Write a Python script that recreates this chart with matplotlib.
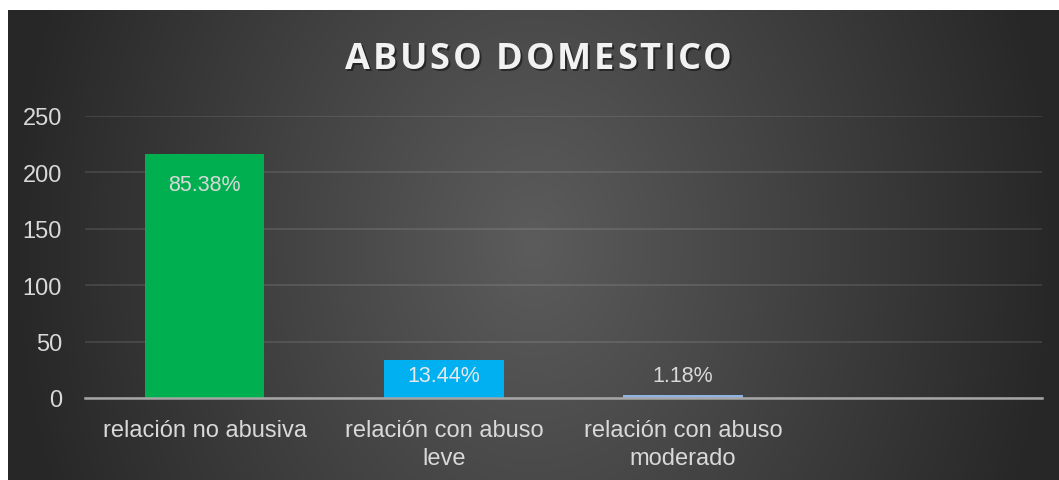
import numpy as np
import matplotlib
matplotlib.use("Agg")
import matplotlib.pyplot as plt

categories = ["relación no abusiva", "relación con abuso\nleve", "relación con abuso\nmoderado", ""]
values = [216, 34, 3, 0]
labels = ["85.38%", "13.44%", "1.18%", None]
colors = ["#00b050", "#00b0f0", "#8eb4e3", "none"]
yticks = [0, 50, 100, 150, 200, 250]
title = "ABUSO DOMESTICO"

W, H = 1059, 481
fig = plt.figure(figsize=(W / 100, H / 100), dpi=100)
fig.patch.set_facecolor("white")

# background panel with radial gradient
x0, y0 = 8 / W, 0.0
bw, bh = 1 - x0, 1 - 11 / H
bg = fig.add_axes([x0, y0, bw, bh])
nx, ny = 400, 200
xx, yy = np.meshgrid(np.linspace(-1, 1, nx), np.linspace(-1, 1, ny))
r = np.sqrt(xx ** 2 + (yy * 0.35) ** 2)
r = np.clip(r, 0, 1)
inner = np.array([0x5c, 0x5c, 0x5c]) / 255
outer = np.array([0x27, 0x27, 0x27]) / 255
img = inner[None, None, :] * (1 - r[..., None]) + outer[None, None, :] * r[..., None]
bg.imshow(img, aspect="auto", extent=[0, 1, 0, 1], interpolation="bilinear")
bg.set_axis_off()

# main axes
left, right = 85 / W, 1042 / W
bottom_px, top_px = 399, 117
ax = fig.add_axes([left, 1 - bottom_px / H, right - left, (bottom_px - top_px) / H])
ax.patch.set_alpha(0)
x = np.arange(len(categories))
bars = ax.bar(x, values, width=0.5, color=colors, zorder=3)
ax.set_xlim(-0.5, len(categories) - 0.5)
ax.set_ylim(0, 250)
ax.set_yticks(yticks)
ax.set_yticklabels([str(t) for t in yticks], fontsize=17, color="#d9d9d9",
                   family="Liberation Sans")
ax.set_xticks(x)
ax.set_xticklabels(categories, fontsize=17, color="#d9d9d9", family="Liberation Sans",
                   linespacing=1.35)
ax.tick_params(axis="both", length=0)
ax.tick_params(axis="y", pad=16.5)
ax.tick_params(axis="x", pad=15)
ax.grid(axis="y", color="white", alpha=0.1, linewidth=1.5, zorder=0)
for s in ["top", "right", "left"]:
    ax.spines[s].set_visible(False)
ax.spines["bottom"].set_color("#a6a6a6")
ax.spines["bottom"].set_linewidth(1.8)
ax.spines["bottom"].set_zorder(4)

for i, (v, lab) in enumerate(zip(values, labels)):
    if lab is None:
        continue
    if v > 100:
        ax.annotate(lab, (x[i], v), xytext=(0, -14), textcoords="offset points",
                    ha="center", va="top", fontsize=15.5, color="#d9d9d9",
                    family="Liberation Sans", zorder=5)
    elif v > 20:
        ax.annotate(lab, (x[i], v), xytext=(0, -4), textcoords="offset points",
                    ha="center", va="top", fontsize=15.5, color="#e8e8e8",
                    family="Liberation Sans", zorder=5)
    else:
        ax.annotate(lab, (x[i], v), xytext=(0, 6), textcoords="offset points",
                    ha="center", va="bottom", fontsize=15.5, color="#d9d9d9",
                    family="Liberation Sans", zorder=5)

# title with letter spacing and shadow
renderer = fig.canvas.get_renderer()
tkw = dict(fontsize=26, fontweight="bold", family="Open Sans")


def width_px(s):
    t = fig.text(0, 0, s, **tkw)
    w = t.get_window_extent(renderer).width
    t.remove()
    return w


target_w = 387
cx, cy = 538.5, 60
n = len(title)
base_w = width_px(title)
sp = (target_w - base_w) / (n - 1)
x_left = cx - target_w / 2
for i, ch in enumerate(title):
    if ch == " ":
        continue
    pos = x_left + width_px(title[:i + 1]) - width_px(ch) + i * sp
    fig.text((pos + 2) / W, 1 - (cy + 2) / H, ch, ha="left", va="center",
             color="#000000", alpha=0.45, **tkw)
    fig.text(pos / W, 1 - cy / H, ch, ha="left", va="center",
             color="#f2f2f2", **tkw)

fig.savefig("out.png", dpi=100, facecolor=fig.get_facecolor())
